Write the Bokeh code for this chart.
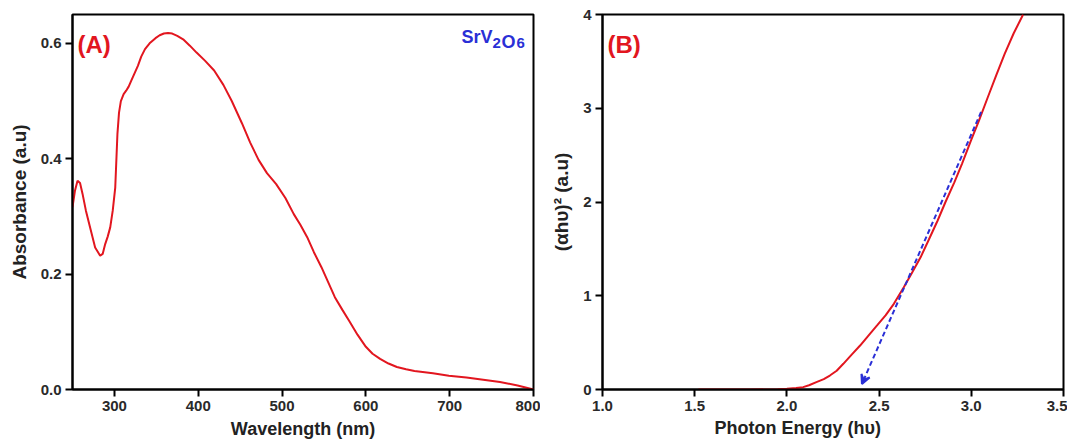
from bokeh.plotting import figure
from bokeh.layouts import row
from bokeh.models import Label, Arrow, VeeHead, FixedTicker, Title
from bokeh.embed import file_html
from bokeh.resources import INLINE

# ---------------- data ----------------
wavelength_nm = [250, 253, 256, 259, 262, 266, 271, 277, 283, 286, 289, 292, 295, 298,
                 301, 303.6, 305.5, 307.7, 311, 314, 317, 320, 324, 328, 332, 336.5, 342,
                 349, 354, 359, 364, 369, 375, 382, 390, 398, 408, 419, 430, 440, 452,
                 462, 472, 482, 493, 504, 514, 522, 530, 538, 547, 555, 563, 572, 580,
                 590, 600, 608, 617, 627, 637, 648, 658, 680, 699, 720, 740, 760, 781, 800]
absorbance = [0.316, 0.345, 0.362, 0.358, 0.339, 0.310, 0.281, 0.246, 0.232, 0.235, 0.252,
              0.265, 0.281, 0.310, 0.350, 0.443, 0.480, 0.500, 0.512, 0.518, 0.525, 0.535,
              0.548, 0.561, 0.577, 0.590, 0.600, 0.609, 0.614, 0.617, 0.618, 0.617, 0.613,
              0.607, 0.596, 0.584, 0.570, 0.553, 0.528, 0.500, 0.462, 0.428, 0.398, 0.375,
              0.356, 0.332, 0.304, 0.285, 0.264, 0.238, 0.212, 0.186, 0.160, 0.138, 0.119,
              0.095, 0.074, 0.062, 0.053, 0.045, 0.039, 0.035, 0.032, 0.028, 0.024, 0.021,
              0.017, 0.013, 0.007, 0.000]

photon_energy = [1.52, 1.8, 1.95, 2.0, 2.05, 2.088, 2.12, 2.16, 2.2, 2.233, 2.27, 2.306,
                 2.35, 2.397, 2.44, 2.489, 2.535, 2.58, 2.634, 2.68, 2.725, 2.77, 2.817,
                 2.86, 2.908, 2.95, 2.999, 3.04, 3.09, 3.135, 3.181, 3.23, 3.281]
tauc_value = [0.0, 0.0, 0.003, 0.008, 0.015, 0.025, 0.045, 0.078, 0.11, 0.149, 0.2, 0.274,
              0.37, 0.469, 0.57, 0.683, 0.79, 0.914, 1.09, 1.25, 1.41, 1.6, 1.80,
              2.0, 2.21, 2.41, 2.66, 2.86, 3.12, 3.35, 3.58, 3.8, 4.0]

arrow_energy = [3.053, 2.407]
arrow_value = [2.96, 0.06]

x_ticks_a = [300, 400, 500, 600, 700, 800]
x_tick_labels_a = ["300", "400", "500", "600", "700", "800"]
y_ticks_a = [0.0, 0.2, 0.4, 0.6]
y_tick_labels_a = ["0.0", "0.2", "0.4", "0.6"]
x_ticks_b = [1.0, 1.5, 2.0, 2.5, 3.0, 3.5]
x_tick_labels_b = ["1.0", "1.5", "2.0", "2.5", "3.0", "3.5"]
y_ticks_b = [0, 1, 2, 3, 4]
y_tick_labels_b = ["0", "1", "2", "3", "4"]

RED = "#e2161f"
BLUE = "#2a2fd6"
FONT = "Liberation Sans"
H = 447


def style(p):
    p.toolbar_location = None
    p.grid.visible = False
    p.outline_line_color = "black"
    p.outline_line_width = 2
    p.background_fill_color = "white"
    p.border_fill_color = "white"
    for ax in p.axis:
        ax.axis_line_width = 2
        ax.axis_line_color = "black"
        ax.major_tick_in = 0
        ax.major_tick_out = 7
        ax.major_tick_line_width = 2
        ax.major_tick_line_color = "black"
        ax.minor_tick_line_color = None
        ax.major_label_text_font = FONT
        ax.major_label_text_font_style = "bold"
        ax.major_label_text_font_size = "15px"
        ax.major_label_text_color = "#2a2a2a"
        ax.axis_label_text_font = FONT
        ax.axis_label_text_font_style = "bold"
        ax.axis_label_text_font_size = "18px"
        ax.axis_label_text_color = "#222222"
    p.xaxis.major_label_standoff = 4
    p.yaxis.major_label_standoff = 4
    p.xaxis.axis_label_standoff = 5
    p.yaxis.axis_label_standoff = 8


# ---------------- panel A ----------------
pa = figure(width=540, height=H, x_range=(250, 800), y_range=(0, 0.65),
            output_backend="svg", toolbar_location=None,
            min_border_left=72, min_border_right=7, min_border_top=14, min_border_bottom=58)
style(pa)
pa.xaxis.ticker = FixedTicker(ticks=x_ticks_a)
pa.yaxis.ticker = FixedTicker(ticks=y_ticks_a)
pa.xaxis.major_label_overrides = dict(zip(x_ticks_a, x_tick_labels_a))
pa.yaxis.major_label_overrides = dict(zip(y_ticks_a, y_tick_labels_a))
pa.xaxis.axis_label = "Wavelength (nm)"
pa.yaxis.axis_label = "Absorbance (a.u)"
pa.yaxis.axis_label_text_font_size = "19px"
pa.line(wavelength_nm, absorbance, line_color=RED, line_width=2)

pa.add_layout(Label(x=250, y=0.65, x_offset=5, y_offset=-30, text="(A)",
                    text_font=FONT, text_font_style="bold", text_font_size="24px",
                    text_color=RED, text_baseline="alphabetic"))
formula_parts = [("SrV", 389, -22, "18px"), ("2", 420, -28, "15px"),
                 ("O", 429, -27, "18px"), ("6", 444, -28, "15px")]
for txt, dx, dy, fs in formula_parts:
    pa.add_layout(Label(x=250, y=0.65, x_offset=dx, y_offset=dy, text=txt,
                        text_font=FONT, text_font_style="bold", text_font_size=fs,
                        text_color=BLUE, text_baseline="alphabetic"))

# ---------------- panel B ----------------
pb = figure(width=527, height=H, x_range=(1.0, 3.5), y_range=(0, 4),
            output_backend="svg", toolbar_location=None,
            min_border_left=62, min_border_right=4, min_border_top=14, min_border_bottom=58)
style(pb)
pb.xaxis.ticker = FixedTicker(ticks=x_ticks_b)
pb.yaxis.ticker = FixedTicker(ticks=y_ticks_b)
pb.xaxis.major_label_overrides = dict(zip(x_ticks_b, x_tick_labels_b))
pb.yaxis.major_label_overrides = dict(zip(y_ticks_b, y_tick_labels_b))
pb.yaxis.axis_label = "(αhυ)² (a.u)"
pb.yaxis.axis_label_text_font_size = "19px"
pb.line(photon_energy, tauc_value, line_color=RED, line_width=2)
pb.add_layout(Arrow(end=VeeHead(size=9, line_color=BLUE, fill_color=BLUE, line_width=2),
                    x_start=arrow_energy[0], y_start=arrow_value[0],
                    x_end=arrow_energy[1], y_end=arrow_value[1],
                    line_color=BLUE, line_width=2, line_dash="5 3"))
pb.add_layout(Label(x=1.0, y=4, x_offset=5, y_offset=-30, text="(B)",
                    text_font=FONT, text_font_style="bold", text_font_size="24px",
                    text_color=RED, text_baseline="alphabetic"))
pb.add_layout(Title(text="Photon Energy (hυ)", align="left", offset=112, standoff=5,
                    text_font=FONT, text_font_style="bold", text_font_size="18px",
                    text_color="#222222"), "below")

layout = row(pa, pb, spacing=0)
open("out.html", "w").write(file_html(layout, INLINE))
